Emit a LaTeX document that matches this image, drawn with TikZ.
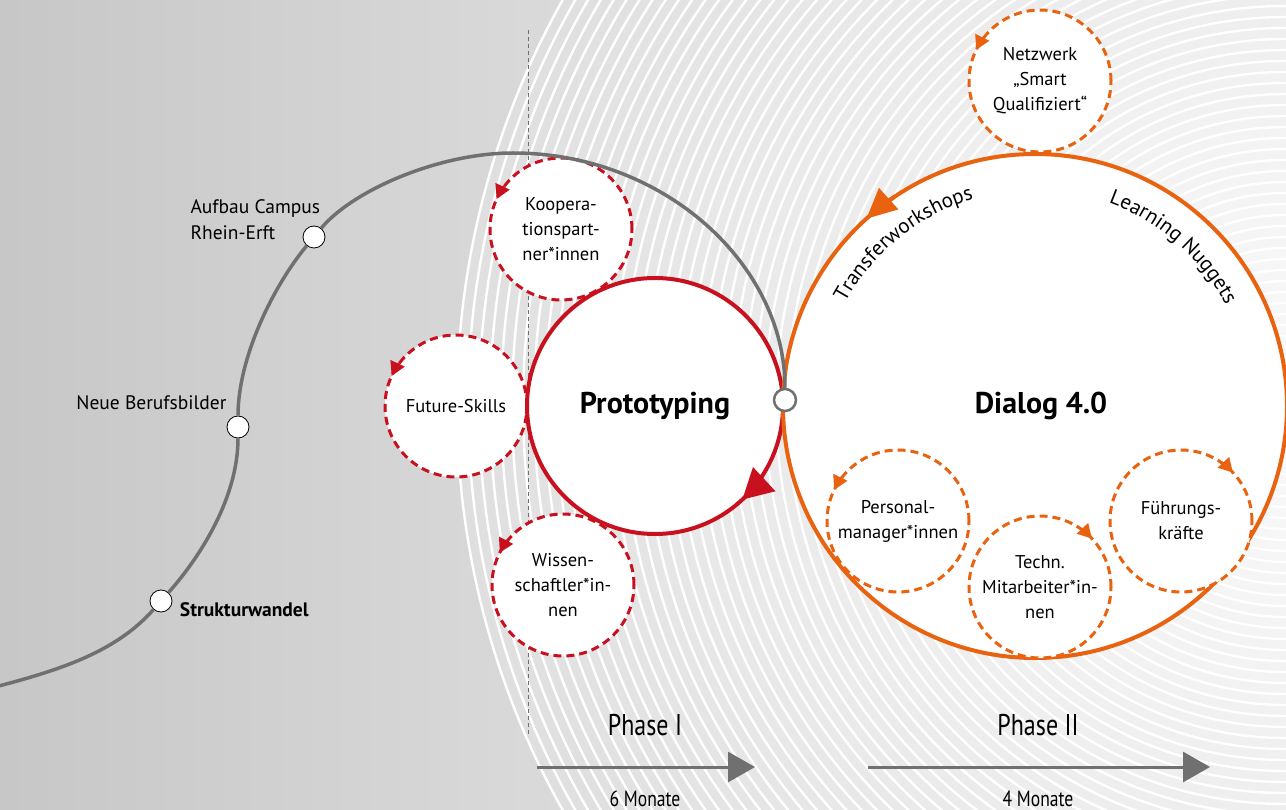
\documentclass[tikz,border=0pt]{standalone}
\usepackage{fontspec}
\setmainfont{PT Sans}
\newfontfamily\narrowsans[FakeStretch=0.8]{PT Sans}
\usetikzlibrary{arrows.meta,positioning,decorations.text}
\definecolor{protored}{RGB}{200,16,30}
\definecolor{dialogorange}{RGB}{232,98,16}
\definecolor{trackgray}{RGB}{112,112,112}
\newcommand{\arcfont}{\fontsize{21}{25}\selectfont}

\begin{document}
\begin{tikzpicture}[
  x=1pt, y=-1pt,
  every node/.style={font=\fontsize{18.5}{25}\selectfont},
  stagecircle/.style={circle, draw, line width=4pt, fill=white, minimum size=#1,
                      inner sep=0pt, outer sep=0pt,
                      font=\fontsize{30}{34}\selectfont\bfseries},
  actor/.style={circle, draw=#1, line width=3pt, dash pattern=on 8pt off 5pt,
                fill=white, minimum size=142pt, inner sep=0pt, outer sep=0pt,
                align=center},
  milestone/.style={circle, draw, line width=0.8pt, fill=white,
                    minimum size=22pt, inner sep=0pt},
  steplabel/.style={font=\fontsize{19.5}{26}\selectfont},
  timeline/.style={draw=trackgray, line width=3pt,
                   -{Triangle[length=27pt,width=30pt]}},
  phasetext/.style={font=\narrowsans\fontsize{30}{34}\selectfont},
  monthtext/.style={font=\narrowsans\fontsize{22}{26}\selectfont},
]
  \useasboundingbox (0,0) rectangle (1286,810);
  \clip (0,0) rectangle (1286,810);
  \shade[left color=black!22, right color=black!14] (0,0) rectangle (600,810);
  \coordinate (ringcentre) at (1285,405);
  \foreach \i in {0,...,75}{
    \pgfmathsetmacro\rad{828-11*\i}
    \pgfmathsetmacro\tone{2.5+10*(\rad/828)^1.3}
    \fill[black!\tone] (ringcentre) circle[radius=\rad];
    \draw[white, line width=2.4pt] (ringcentre) circle[radius=\rad];
  }
  \draw[trackgray, line width=1pt, dash pattern=on 4pt off 3pt] (528,30) -- (528,737);

  \node[actor=protored] (koop) at (561,229) {Koopera-\\tionspart-\\ner*innen};
  \node[actor=protored] (skills) at (456,406) {Future-Skills};
  \node[actor=protored] (wiss) at (563,585) {Wissen-\\schaftler*in-\\nen};
  \node[stagecircle=256pt, draw=protored, right=0pt of skills] (proto) {Prototyping};
  \node[stagecircle=504pt, draw=dialogorange, right=0pt of proto] (dialog) {\hspace*{12pt}Dialog 4.0};
  \node[actor=dialogorange] (netz) at (1040,81) {Netzwerk\\„Smart\\Qualifiziert“};
  \node[actor=dialogorange] (personal) at (898,521) {Personal-\\manager*innen};
  \node[actor=dialogorange] (techn) at (1040,587) {Techn.\\Mitarbeiter*in-\\nen};
  \node[actor=dialogorange] (fuehrung) at (1181,521) {Führungs-\\kräfte};

  \draw[protored, line width=4pt, -{Triangle[length=30pt,width=32pt]}]
    (proto.center) ++(33:128) arc[start angle=33, end angle=47, radius=128];
  \draw[dialogorange, line width=4pt, -{Triangle[length=30pt,width=28pt]}]
    (dialog.center) ++(236:252) arc[start angle=236, end angle=228, radius=252];
  \foreach \who/\hue/\tailang/\tipang in {koop/protored/217/205, skills/protored/217/205,
      wiss/protored/219/207, netz/dialogorange/218/206, personal/dialogorange/218/206,
      techn/dialogorange/305/317, fuehrung/dialogorange/305/317}
    \draw[\hue, line width=3pt, -{Triangle[length=14pt,width=15pt]}]
      (\who.center) ++(\tailang:71) arc[start angle=\tailang, end angle=\tipang, radius=71];

  \path[decorate, decoration={text along path, text align=center,
      text={|\arcfont|Transferworkshops}}]
    (dialog.center) ++(196:216) arc[start angle=196, end angle=266, radius=216];
  \path[decorate, decoration={text along path, text align=center,
      text={|\arcfont|Learning Nuggets}}]
    (dialog.center) ++(276:216) arc[start angle=276, end angle=346, radius=216];

  \node[milestone] (wandel) at (161,601) {};
  \node[milestone] (berufe) at (238,427) {};
  \node[milestone] (campus) at (314,237) {};
  \node[milestone, draw=trackgray, line width=2.5pt] (junction) at (785,400) {};
  \coordinate (tail) at (-5,687);
  \coordinate (crest) at (513,153);
  \draw[trackgray, line width=3.5pt] (tail) .. controls (60,670) and (116,652) .. (wandel)
    .. controls (201,556) and (238,497) .. (berufe)
    .. controls (238,357) and (274,285) .. (campus)
    .. controls (352,191) and (438,153) .. (crest)
    .. controls (663,153) and (785,264) .. (junction);

  \node[steplabel, align=left, anchor=west] (campuslabel) at (187,220) {Aufbau Campus\\Rhein-Erft};
  \node[steplabel, above left=6pt and 0pt of berufe] (berufelabel) {Neue Berufsbilder};
  \node[steplabel, right=4pt of wandel, yshift=-9pt, font=\fontsize{19.5}{26}\selectfont\bfseries]
    (wandellabel) {Strukturwandel};

  \coordinate (onestart) at (537,767);
  \coordinate (oneend) at (755,767);
  \coordinate (twostart) at (868,767);
  \coordinate (twoend) at (1210,767);
  \draw[timeline] (onestart) -- (oneend);
  \draw[timeline] (twostart) -- (twoend);
  \node[phasetext] (phaseone) at (645,725) {Phase I};
  \node[phasetext] (phasetwo) at (1038,725) {Phase II};
  \node[monthtext, anchor=base] (monthsone) at (645,806) {6 Monate};
  \node[monthtext, anchor=base] (monthstwo) at (1038,806) {4 Monate};
\end{tikzpicture}
\end{document}
